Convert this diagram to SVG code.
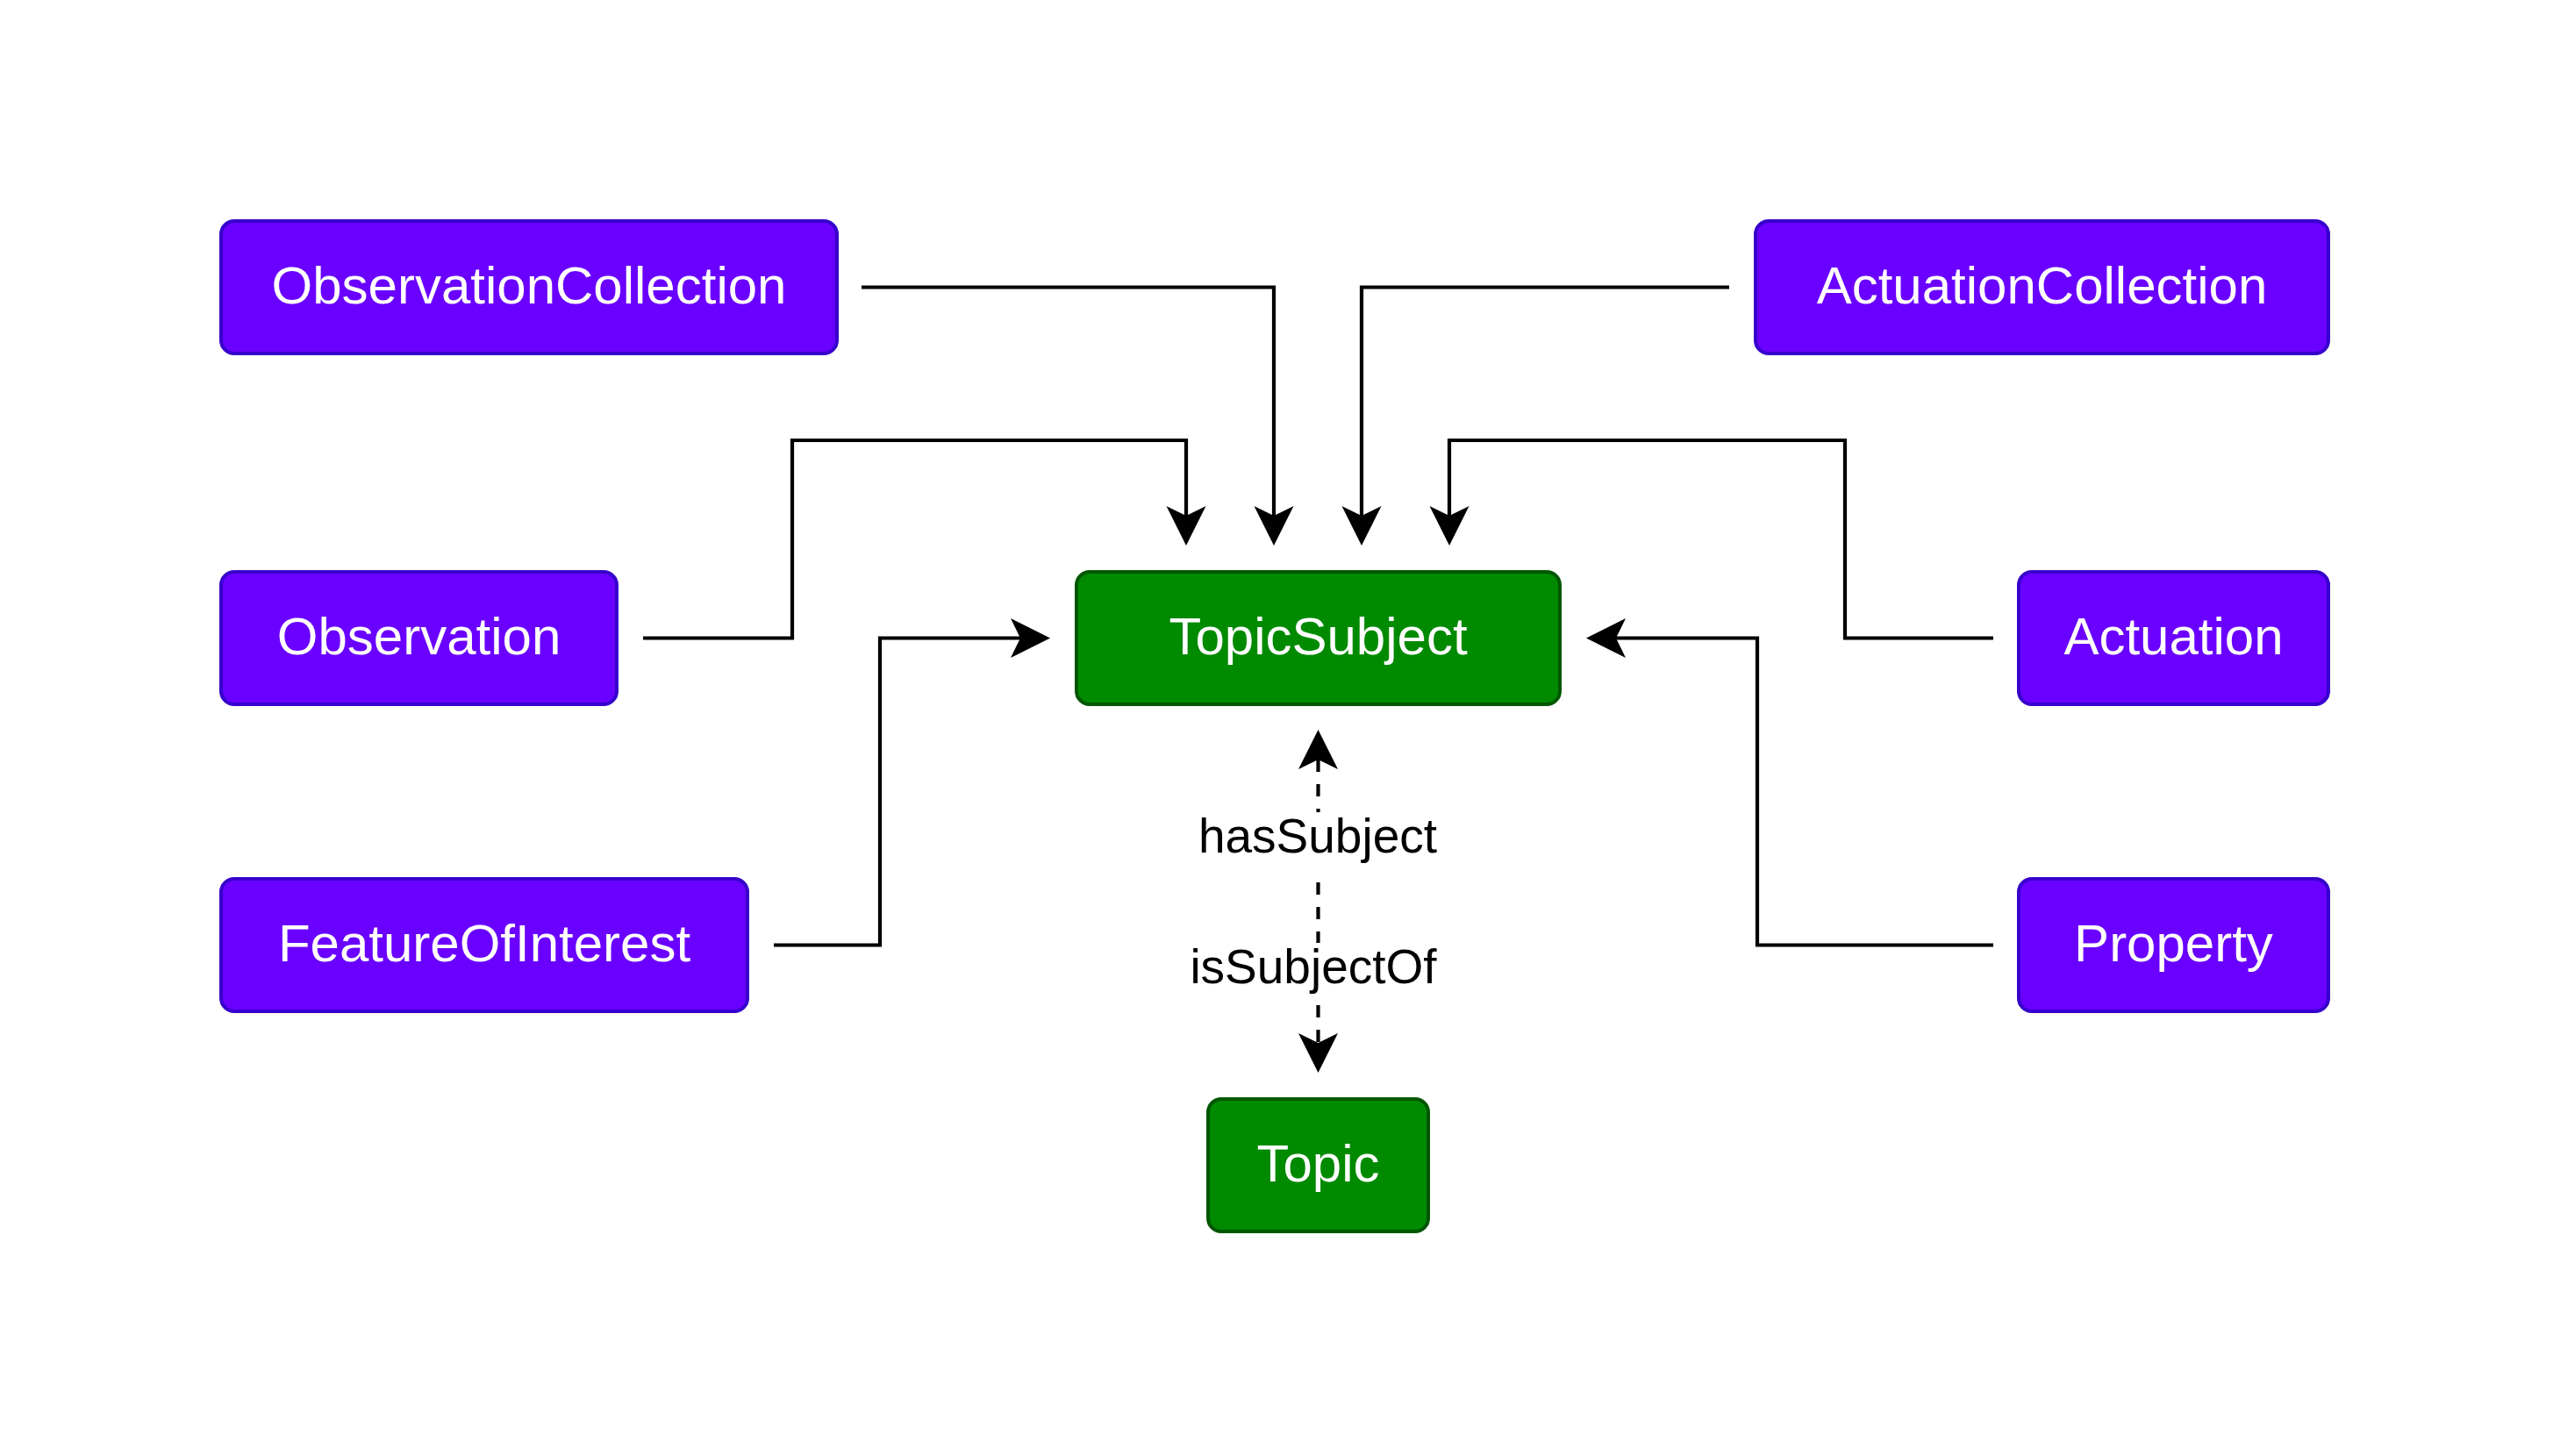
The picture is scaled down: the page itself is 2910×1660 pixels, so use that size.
<svg xmlns="http://www.w3.org/2000/svg" width="2910" height="1660" viewBox="0 0 2910 1660">
<style>
.violet rect{fill:#6a00ff;stroke:#3700cc;stroke-width:4}
.green rect{fill:#008a00;stroke:#005700;stroke-width:4}
.node text{fill:#ffffff;font-family:"Liberation Sans",Arial,sans-serif;font-size:60px;text-anchor:middle}
.edge{fill:none;stroke:#000000;stroke-width:4.2;stroke-linejoin:miter}
.dashed{stroke-dasharray:14 14}
.lbl text{fill:#000000;font-family:"Liberation Sans",Arial,sans-serif;font-size:55px;text-anchor:middle}
.lbl rect{fill:#ffffff;stroke:none}
</style>
<defs>
<marker id="arrow" markerUnits="userSpaceOnUse" viewBox="-46 -24 48 48" markerWidth="48" markerHeight="48" refX="-34" refY="0" orient="auto-start-reverse" overflow="visible">
<path d="M0,0 L-45,-22.5 L-34,0 L-45,22.5 Z" fill="#000000"/>
</marker>
</defs>
<rect x="0" y="0" width="2910" height="1660" fill="#ffffff"/>
<g id="connectors">
<path class="edge" d="M982,327.5 H1452 V588" marker-end="url(#arrow)"/>
<path class="edge" d="M1971,327.5 H1552 V588" marker-end="url(#arrow)"/>
<path class="edge" d="M733,727.5 H903 V502 H1352 V588" marker-end="url(#arrow)"/>
<path class="edge" d="M2272,727.5 H2103 V502 H1652 V588" marker-end="url(#arrow)"/>
<path class="edge" d="M882,1077.5 H1003 V727.5 H1163" marker-end="url(#arrow)"/>
<path class="edge" d="M2272,1077.5 H2003 V727.5 H1842" marker-end="url(#arrow)"/>
<path class="edge dashed" d="M1502.5,866 V1189" marker-start="url(#arrow)" marker-end="url(#arrow)"/>
<g class="lbl" id="label-hasSubject">
<rect x="1360" y="926" width="285" height="66"/>
<text x="1502" y="972">hasSubject</text>
</g>
<g class="lbl" id="label-isSubjectOf">
<rect x="1350" y="1075" width="294" height="68"/>
<text x="1497" y="1121">isSubjectOf</text>
</g>
</g>
<g id="ObservationCollection" class="node violet">
<rect x="252" y="252" width="702" height="151" rx="15" ry="15"/>
<text x="603" y="346">ObservationCollection</text>
</g>
<g id="ActuationCollection" class="node violet">
<rect x="2001" y="252" width="653" height="151" rx="15" ry="15"/>
<text x="2327.5" y="346">ActuationCollection</text>
</g>
<g id="Observation" class="node violet">
<rect x="252" y="652" width="451" height="151" rx="15" ry="15"/>
<text x="477.5" y="746">Observation</text>
</g>
<g id="TopicSubject" class="node green">
<rect x="1227" y="652" width="551" height="151" rx="15" ry="15"/>
<text x="1502.5" y="746">TopicSubject</text>
</g>
<g id="Actuation" class="node violet">
<rect x="2301" y="652" width="353" height="151" rx="15" ry="15"/>
<text x="2477.5" y="746">Actuation</text>
</g>
<g id="FeatureOfInterest" class="node violet">
<rect x="252" y="1002" width="600" height="151" rx="15" ry="15"/>
<text x="552" y="1096">FeatureOfInterest</text>
</g>
<g id="Property" class="node violet">
<rect x="2301" y="1002" width="353" height="151" rx="15" ry="15"/>
<text x="2477.5" y="1096">Property</text>
</g>
<g id="Topic" class="node green">
<rect x="1377" y="1253" width="251" height="151" rx="15" ry="15"/>
<text x="1502.5" y="1347">Topic</text>
</g>
</svg>
